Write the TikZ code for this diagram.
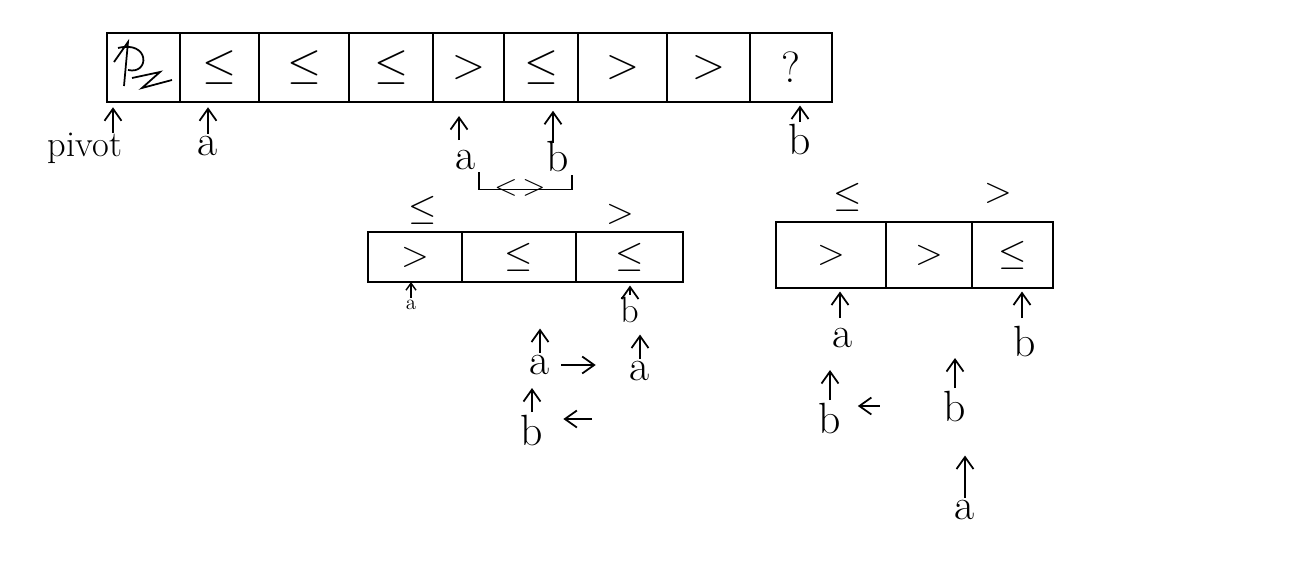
\documentclass[tikz,border=0pt]{standalone}
\usepackage{tikz}
\usetikzlibrary{arrows.meta,calc}

\begin{document}
\begin{tikzpicture}[x=0.02cm,y=-0.02cm,line width=1pt,>={Straight Barb[length=2.4mm,width=3.4mm]},
  cell/.style={draw,line width=1.3pt,inner sep=0pt,outer sep=0pt,font=\Huge},
  lbl/.style={inner sep=1pt,font=\Huge},
  tiny/.style={inner sep=1pt,font=\large}]
    \useasboundingbox (0,0) rectangle (1301,575);
    % first array
    \node[cell,minimum width=1.46cm,minimum height=1.38cm] (p0) at (143.5,67.5) {};
    \node[cell,minimum width=1.58cm,minimum height=1.38cm] (p1) at (219.5,67.5) {$\leq$};
    \node[cell,minimum width=1.80cm,minimum height=1.38cm] (p2) at (304,67.5) {$\leq$};
    \node[cell,minimum width=1.68cm,minimum height=1.38cm] (p3) at (391,67.5) {$\leq$};
    \node[cell,minimum width=1.42cm,minimum height=1.38cm] (p4) at (468.5,67.5) {$>$};
    \node[cell,minimum width=1.48cm,minimum height=1.38cm] (p5) at (541,67.5) {$\leq$};
    \node[cell,minimum width=1.78cm,minimum height=1.38cm] (p6) at (622.5,67.5) {$>$};
    \node[cell,minimum width=1.66cm,minimum height=1.38cm] (p7) at (708.5,67.5) {$>$};
    \node[cell,minimum width=1.64cm,minimum height=1.38cm] (p8) at (791,67.5) {?};
    \draw (114,62) -- (128,42) -- (124,86) (118,48) .. controls (150,40) and (150,75) .. (128,70)
      (132,78) -- (160,72) -- (142,88) -- (172,80);
    \node[lbl,font=\huge] (piv) at (85,148) {pivot};
    \node[lbl] (pa) at (208,146) {a};
    \node[lbl] (pa2) at (466,160) {a};
    \node[lbl] (pb2) at (558,157) {b};
    \node[lbl] (pb) at (800,140) {b};
    \coordinate (pivtip) at (113,133);
    \coordinate (pa2tip) at (459,140);
    \coordinate (pb2tip) at (553,143);
    \draw[->,shorten >=3pt] (pivtip) -- (pivtip |- p0.south);
    \draw[->,shorten >=3pt] (pa.north) -- (pa.north |- p1.south);
    \draw[->,shorten >=8pt] (pa2tip) -- (pa2tip |- p4.south);
    \draw[->,shorten >=5pt] (pb2tip) -- (pb2tip |- p5.south);
    \draw[->,shorten >=2pt] (pb.north) -- (pb.north |- p8.south);
    \draw (pa2.south east) -- ++(0,17) -| (pb2.south east);
    \node[lbl,font=\LARGE] (swap) at (520,188) {$<\,>$};
    % second array, left
    \node[cell,font=\huge,minimum width=1.88cm,minimum height=1.0cm] (l1) at (415,257) {$>$};
    \node[cell,font=\huge,minimum width=2.28cm,minimum height=1.0cm] (l2) at (519,257) {$\leq$};
    \node[cell,font=\huge,minimum width=2.14cm,minimum height=1.0cm] (l3) at (629.5,257) {$\leq$};
    \node[lbl,font=\huge] (lle) at (423,210) {$\leq$};
    \node[lbl,font=\huge] (lgt) at (620,214) {$>$};
    \node[tiny] (la) at (411,305) {a};
    \node[lbl,font=\huge] (lb) at (630,310) {b};
    \draw[->,line width=0.8pt,>={Straight Barb[length=1.4mm,width=2mm]}] (la.north) -- (la.north |- l1.south);
    \draw[->,shorten >=2pt] (lb.north) -- (lb.north |- l3.south);
    \node[lbl] (la1) at (540,365) {a};
    \node[lbl] (la2) at (640,371) {a};
    \node[lbl] (lb1) at (532,430) {b};
    \coordinate (lfree) at (592,419);
    \draw[->] (la1.north) -- ++(0,-24);
    \draw[->] (la2.north) -- ++(0,-24);
    \draw[->] (lb1.north) -- ++(0,-24);
    \draw[->,shorten <=5pt,shorten >=18pt] (la1.east) -- (la1.east -| la2.west);
    \draw[->,shorten >=10pt] (lfree) -- (lfree -| lb1.east);
    % second array, right
    \node[cell,font=\huge,minimum width=2.20cm,minimum height=1.32cm] (r1) at (831,255) {$>$};
    \node[cell,font=\huge,minimum width=1.72cm,minimum height=1.32cm] (r2) at (929,255) {$>$};
    \node[cell,font=\huge,minimum width=1.62cm,minimum height=1.32cm] (r3) at (1012.5,255) {$\leq$};
    \node[lbl,font=\huge] (rle) at (848,197) {$\leq$};
    \node[lbl,font=\huge] (rgt) at (998,193) {$>$};
    \node[lbl] (ra) at (843,338) {a};
    \node[lbl] (rb) at (1025,341) {b};
    \coordinate (ratip) at (840,318);
    \coordinate (rbtip) at (1022,318);
    \draw[->,shorten >=2pt] (ratip) -- (ratip |- r1.south);
    \draw[->,shorten >=2pt] (rbtip) -- (rbtip |- r3.south);
    \node[lbl] (rb1) at (830,418) {b};
    \node[lbl] (rb2) at (955,406) {b};
    \node[lbl] (ra2) at (965,510) {a};
    \draw[->] (rb1.north) -- ++(0,-30);
    \draw[->] (rb2.north) -- ++(0,-30);
    \draw[->] (ra2.north) -- ++(0,-42);
    \draw[->,shorten <=35pt,shorten >=8pt] (rb2.west) -- (rb2.west -| rb1.east);
\end{tikzpicture}
\end{document}
